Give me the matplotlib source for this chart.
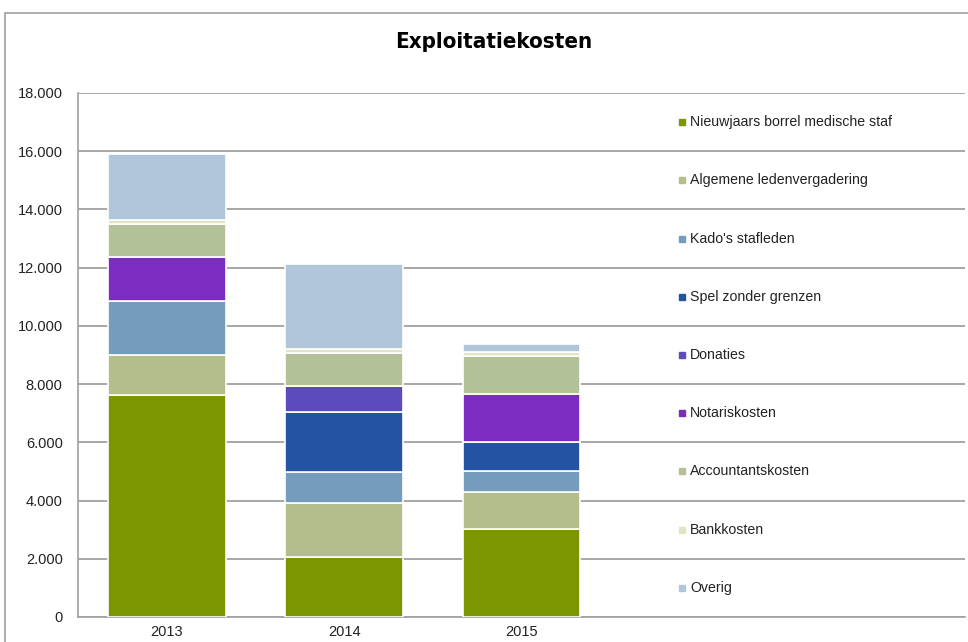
import numpy as np
import matplotlib.pyplot as plt
from matplotlib.patches import Rectangle
from matplotlib.ticker import FuncFormatter

years = ['2013', '2014', '2015']
series = ['Nieuwjaars borrel medische staf', 'Algemene ledenvergadering', "Kado's stafleden",
          'Spel zonder grenzen', 'Donaties', 'Notariskosten', 'Accountantskosten',
          'Bankkosten', 'Overig']
nieuwjaars = [7630, 2060, 3020]
algemene = [1370, 1860, 1280]
kado = [1860, 1060, 720]
spel = [0, 2060, 1000]
donaties = [0, 890, 0]
notaris = [1510, 0, 1650]
accountant = [1130, 1130, 1300]
bank = [140, 140, 140]
overig = [2270, 2920, 270]
colors = ['#7a9600', '#b3be8a', '#759cbd', '#2353a2', '#5b4cbb', '#7b2dc1',
          '#b3c198', '#dfe6c3', '#b0c6da']

data = [nieuwjaars, algemene, kado, spel, donaties, notaris, accountant, bank, overig]

W, H = 968, 642
fig = plt.figure(figsize=(W / 100, H / 100), dpi=100)
plt.rcParams['font.family'] = ['Liberation Sans', 'DejaVu Sans']

# chart frame
fig.patches.append(Rectangle((5 / W, -0.1), 1.2, (H - 13) / H + 0.1, transform=fig.transFigure,
                             fill=False, edgecolor='#a0a0a0', lw=1.2))

ax = fig.add_axes([78 / W, (H - 617) / H, (965 - 78) / W, (617 - 93) / H])
x = np.arange(len(years))
bottom = np.zeros(len(years))
for vals, name, c in zip(data, series, colors):
    ax.bar(x, vals, 0.665, bottom=bottom, color=c, edgecolor='white', linewidth=1.2, label=name, zorder=3)
    bottom += np.array(vals)

ax.set_xlim(-0.5, 4.5)
ax.set_ylim(0, 18000)
ax.set_yticks(np.arange(0, 18001, 2000))
ax.yaxis.set_major_formatter(FuncFormatter(lambda v, p: f'{int(v):,}'.replace(',', '.')))
ax.set_xticks(x)
ax.set_xticklabels(years)
ax.grid(axis='y', color='#a0a0a0', lw=1.3, zorder=0)
for s in ['top', 'right']:
    ax.spines[s].set_visible(False)
for s in ['left', 'bottom']:
    ax.spines[s].set_color('#a0a0a0')
    ax.spines[s].set_linewidth(1.2)
ax.tick_params(axis='x', length=0, labelsize=10.5, pad=6, colors='#222222')
ax.tick_params(axis='y', length=0, labelsize=10.5, pad=11, colors='#222222')

# legend, one entry between each pair of gridlines
for i, (name, c) in enumerate(zip(series, colors)):
    yv = 17000 - i * 2000
    ax.plot([2.905], [yv], marker='s', ms=4.5, color=c, ls='none', zorder=4, clip_on=False)
    ax.text(2.95, yv, name, fontsize=10.2, va='center', ha='left', color='#222222', zorder=4)

fig.text(494 / W, 1 - 42 / H, 'Exploitatiekosten', ha='center', va='center', fontsize=16,
         fontweight='bold', family='DejaVu Sans', fontstretch='condensed')

fig.savefig('out.png', dpi=100)
